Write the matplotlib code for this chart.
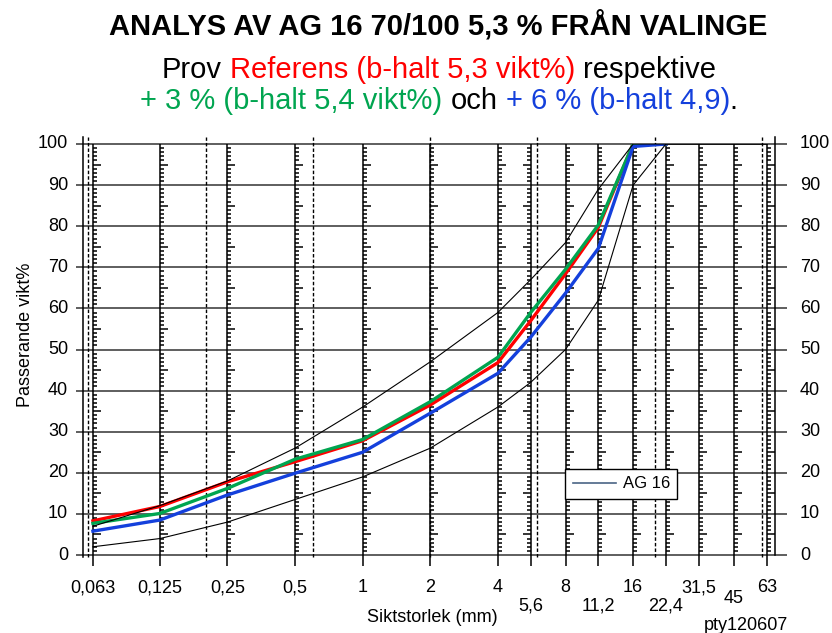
# -*- coding: UTF-8 -*-
import numpy as np
import matplotlib
matplotlib.use('Agg')
import matplotlib.pyplot as plt
from matplotlib.transforms import ScaledTranslation
from matplotlib.ticker import NullLocator
from matplotlib.lines import Line2D

plt.rcParams['font.family'] = ['Liberation Sans', 'DejaVu Sans']

# siktar (mm)
sieves = [0.063, 0.125, 0.25, 0.5, 1, 2, 4, 5.6, 8, 11.2, 16, 22.4, 31.5, 45, 63]
sieve_labels = ['0,063', '0,125', '0,25', '0,5', '1', '2', '4', '5,6', '8',
                '11,2', '16', '22,4', '31,5', '45', '63']
# fraktionsgränser (streckade)
fraction_limits = [0.06, 0.2, 0.6, 2, 6, 20, 60]

# gränskurvor AG 16
env_sizes = [0.063, 0.125, 0.25, 0.5, 1, 2, 4, 5.6, 8, 11.2, 16, 22.4, 31.5, 45, 63]
env_upper = [7, 12, 18, 26, 36, 47, 59, 67, 76, 89, 100, 100, 100, 100, 100]
env_lower = [2, 4, 8, 13.5, 19, 26, 36, 42, 50, 62, 90, 100, 100, 100, 100]

# prover
sample_sizes = [0.063, 0.125, 0.25, 0.5, 1, 2, 4, 5.6, 8, 11.2, 16, 22.4]
referens = [8.3, 11.8, 17.8, 22.7, 27.8, 36.5, 46.8, 57, 68.4, 79.7, 100, 100]
plus3 = [7.7, 10.1, 16.2, 23.3, 28.1, 37.3, 48.1, 59, 69.5, 80.3, 100, 100]
plus6 = [5.8, 8.5, 14.6, 19.9, 25.0, 34.5, 44.2, 53, 63.7, 74.6, 99.4, 100]

RED = '#ff0000'
GREEN = '#00a550'
BLUE = '#1440dc'

W, H = 832, 633
fig = plt.figure(figsize=(W / 100, H / 100), dpi=100)
ax = fig.add_axes([83 / W, 1 - 555 / H, 692 / W, 411 / H])
ax.set_xscale('log')
ax.set_xlim(0.0569, 68.5)
ax.set_ylim(0, 100)
for sp in ax.spines.values():
    sp.set_visible(False)

# rutnät
ax.hlines(np.arange(0, 101, 10), -7 / 692, 1 + 12 / 692, colors='#333333', lw=1.1,
          transform=ax.get_yaxis_transform(), clip_on=False, zorder=1)
ax.vlines(sieves, 0, 100, colors='black', lw=1.1, zorder=1)
ax.vlines(fraction_limits, -0.5, 101.8, colors='black', lw=1.0,
          linestyles=(0, (2.5, 1.5)), clip_on=False, zorder=1)
ax.plot([0, 0], [-0.5, 101.8], color='black', lw=1.1, transform=ax.get_yaxis_transform(),
        clip_on=False, zorder=1)
ax.plot([1, 1], [0, 101.8], color='black', lw=1.1, transform=ax.get_yaxis_transform(),
        clip_on=False, zorder=1)

# små streck på siktlinjerna
minor_y = [v for v in range(1, 100) if v % 5 != 0]
half_y = [v for v in range(5, 100, 10)]
for s in sieves:
    sign = -1 if s == 5.6 else 1
    for yy, L in ((minor_y, 3.0), (half_y, 5.8)):
        tr = ax.transData + ScaledTranslation(sign * L / 2 / 72, 0, fig.dpi_scale_trans)
        ax.plot([s] * len(yy), yy, ls='none', marker='_', ms=L, mew=1.1,
                color='black', transform=tr, zorder=1)

# x-ticks
ax.set_xticks(sieves)
ax.xaxis.set_minor_locator(NullLocator())
ax.set_xticklabels([])
ax.set_yticks([])
ax.tick_params(axis='x', direction='out', length=8, width=1.1)

xt = ax.get_xaxis_transform()
low = {'5,6': -0.124, '11,2': -0.124, '22,4': -0.124, '45': -0.105}
for s, lab in zip(sieves, sieve_labels):
    ax.text(s, low.get(lab, -0.080), lab, transform=xt, ha='center', va='center', fontsize=13)

yt = ax.get_yaxis_transform()
for v in range(0, 101, 10):
    ax.text(-15 / 692, v, str(v), transform=yt, ha='right', va='center', fontsize=13)
    ax.text(1 + 25 / 692, v, str(v), transform=yt, ha='left', va='center', fontsize=13)

# kurvor
ax.plot(sample_sizes, referens, color=RED, lw=2.4, zorder=3)
ax.plot(sample_sizes, plus3, color=GREEN, lw=2.4, zorder=3)
ax.plot(sample_sizes, plus6, color=BLUE, lw=2.4, zorder=3)
ax.plot(env_sizes, env_upper, color='black', lw=0.8, zorder=4)
ax.plot(env_sizes, env_lower, color='black', lw=0.8, zorder=4)

leg = ax.legend([Line2D([], [], color='#4a6585', lw=1.2)], ['AG 16'], loc='lower left',
                bbox_to_anchor=(482 / 692, 56 / 411), borderaxespad=0, fancybox=False,
                edgecolor='black', framealpha=1, fontsize=12, handlelength=2.6,
                borderpad=0.45, handletextpad=0.4)
leg.get_frame().set_linewidth(1.0)
leg.set_zorder(5)

fig.text(432 / W, 1 - 618 / H, 'Siktstorlek (mm)', ha='center', va='center', fontsize=13)
fig.text(746 / W, 1 - 626 / H, 'pty120607', ha='center', va='center', fontsize=13)
fig.text(26 / W, 1 - 335 / H, 'Passerande vikt%', rotation=90, ha='center', va='center',
         fontsize=13)

fig.text(438 / W, 1 - 25 / H, 'ANALYS AV AG 16 70/100 5,3 % FRÅN VALINGE', ha='center',
         va='center', fontsize=21, fontweight='bold')

renderer = fig.canvas.get_renderer()


def color_line(y_px, parts, fs, center_px=439):
    # parts: (text, colour, gap before next)
    sp = fig.text(0, 0, 'a a', fontsize=fs)
    nsp = fig.text(0, 0, 'aa', fontsize=fs)
    space = sp.get_window_extent(renderer).width - nsp.get_window_extent(renderer).width
    sp.remove()
    nsp.remove()
    texts = [fig.text(0, 1 - y_px / H, s, color=c, fontsize=fs, va='center') for s, c, g in parts]
    widths = [t.get_window_extent(renderer).width for t in texts]
    total = sum(widths) + space * sum(g for s, c, g in parts[:-1])
    x = center_px - total / 2
    for t, w, p in zip(texts, widths, parts):
        t.set_x(x / W)
        x += w + space * p[2]


color_line(70, [('Prov', 'black', 1), ('Referens (b-halt 5,3 vikt%)', RED, 1),
                ('respektive', 'black', 0)], 21)
color_line(101, [('+ 3 % (b-halt 5,4 vikt%)', GREEN, 1), ('och', 'black', 1),
                 ('+ 6 % (b-halt 4,9)', BLUE, 0), ('.', 'black', 0)], 21)

fig.savefig('out.png', dpi=100)
